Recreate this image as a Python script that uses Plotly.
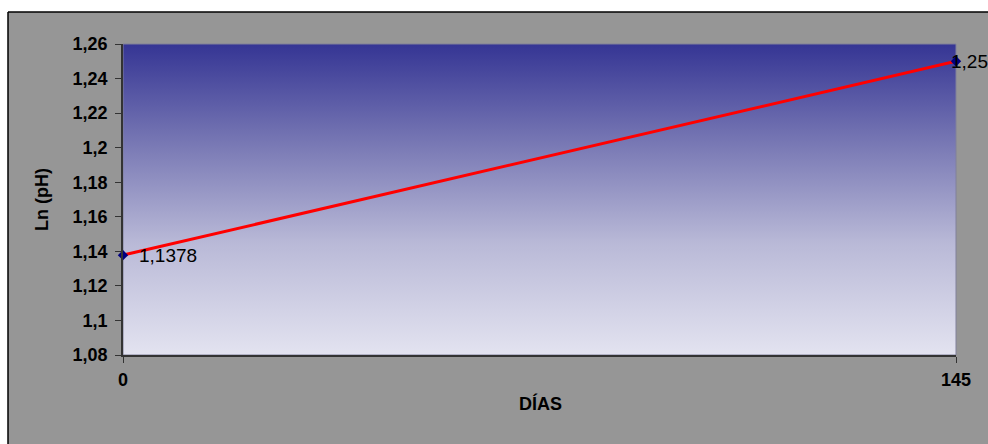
import base64
import plotly.graph_objects as go

# Ln(pH) against days
dias = [0, 145]
ln_ph = [1.1378, 1.25]
x_ticks = [0, 145]

W, H = 988, 444
L, R, T, B = 123, 32, 44, 89
pw, ph = W - L - R, H - T - B

FONT = "Arial, Liberation Sans, sans-serif"


def px_x(p):
    return (p - L) / pw


def px_y(p):
    return (H - B - p) / ph


fig = go.Figure()

fig.add_trace(go.Scatter(
    x=dias, y=ln_ph, mode="lines+markers",
    line=dict(color="#ff0000", width=3),
    marker=dict(symbol="diamond", size=8, color="#000080"),
    hoverinfo="skip", showlegend=False, cliponaxis=False,
))

# smooth vertical gradient for the plot area, as an inline SVG image
grad_svg = (
    '<svg xmlns="http://www.w3.org/2000/svg" width="100" height="100" '
    'preserveAspectRatio="none">'
    '<defs><linearGradient id="g" x1="0" y1="0" x2="0" y2="1">'
    '<stop offset="0" stop-color="#353594"/>'
    '<stop offset="0.32" stop-color="#7878b4"/>'
    '<stop offset="0.64" stop-color="#b9b9d7"/>'
    '<stop offset="1" stop-color="#e3e3f0"/>'
    '</linearGradient></defs>'
    '<rect width="100" height="100" fill="url(#g)"/></svg>'
)
grad_src = "data:image/svg+xml;base64," + base64.b64encode(grad_svg.encode()).decode()
fig.add_layout_image(dict(source=grad_src, xref="paper", yref="paper",
                          x=0, y=1, sizex=1, sizey=1, sizing="stretch",
                          xanchor="left", yanchor="top", layer="below"))

shapes = [
    # white strips outside the grey chart frame
    dict(type="rect", xref="paper", yref="paper",
         x0=px_x(-5), x1=px_x(W + 5), y0=px_y(12), y1=px_y(-5),
         fillcolor="#ffffff", line=dict(width=0), layer="below"),
    dict(type="rect", xref="paper", yref="paper",
         x0=px_x(-5), x1=px_x(8), y0=px_y(H + 5), y1=px_y(12),
         fillcolor="#ffffff", line=dict(width=0), layer="below"),
    # black frame edges
    dict(type="line", xref="paper", yref="paper",
         x0=px_x(8), x1=px_x(W + 5), y0=px_y(12), y1=px_y(12),
         line=dict(color="#000000", width=1.5)),
    dict(type="line", xref="paper", yref="paper",
         x0=px_x(8), x1=px_x(8), y0=px_y(12), y1=px_y(H + 5),
         line=dict(color="#000000", width=1.5)),
    # plot area border
    dict(type="rect", xref="paper", yref="paper",
         x0=0, x1=1, y0=0, y1=1,
         line=dict(color="#80809a", width=1), layer="below"),
]
fig.update_layout(shapes=shapes)

# value labels
labels = [f"{v:g}".replace(".", ",") for v in ln_ph]
shifts = [14, -7]
for xv, yv, lab, s in zip(dias, ln_ph, labels, shifts):
    fig.add_annotation(x=xv, y=yv, text=lab, showarrow=False,
                       xanchor="left", yanchor="middle", xshift=s,
                       font=dict(family=FONT, size=19, color="#000000"))

# axis titles
fig.add_annotation(xref="paper", yref="paper", x=px_x(30), y=px_y(200),
                   text="<b>Ln (pH)</b>", showarrow=False, textangle=-90,
                   font=dict(family=FONT, size=18, color="#000000"))
fig.add_annotation(xref="paper", yref="paper", x=px_x(540), y=px_y(416),
                   text="<b>DÍAS</b>", showarrow=False,
                   font=dict(family=FONT, size=18, color="#000000"))

axis_common = dict(ticks="outside", ticklen=6, tickcolor="#333333",
                   showgrid=False, zeroline=False, showline=True,
                   linecolor="#333333", linewidth=1.5,
                   tickfont=dict(family=FONT, size=18, color="#000000",
                                 weight="bold"))
fig.update_xaxes(range=[0, 145], tickvals=x_ticks, ticklabelstandoff=2,
                 **axis_common)
fig.update_yaxes(range=[1.08, 1.26], dtick=0.02, ticklabelstandoff=4,
                 **axis_common)

fig.update_layout(
    width=W, height=H,
    margin=dict(l=L, r=R, t=T, b=B),
    paper_bgcolor="#969696",
    plot_bgcolor="rgba(0,0,0,0)",
    separators=",.",
    font=dict(family=FONT),
)

fig.write_html("out.html", config={"displayModeBar": False})
